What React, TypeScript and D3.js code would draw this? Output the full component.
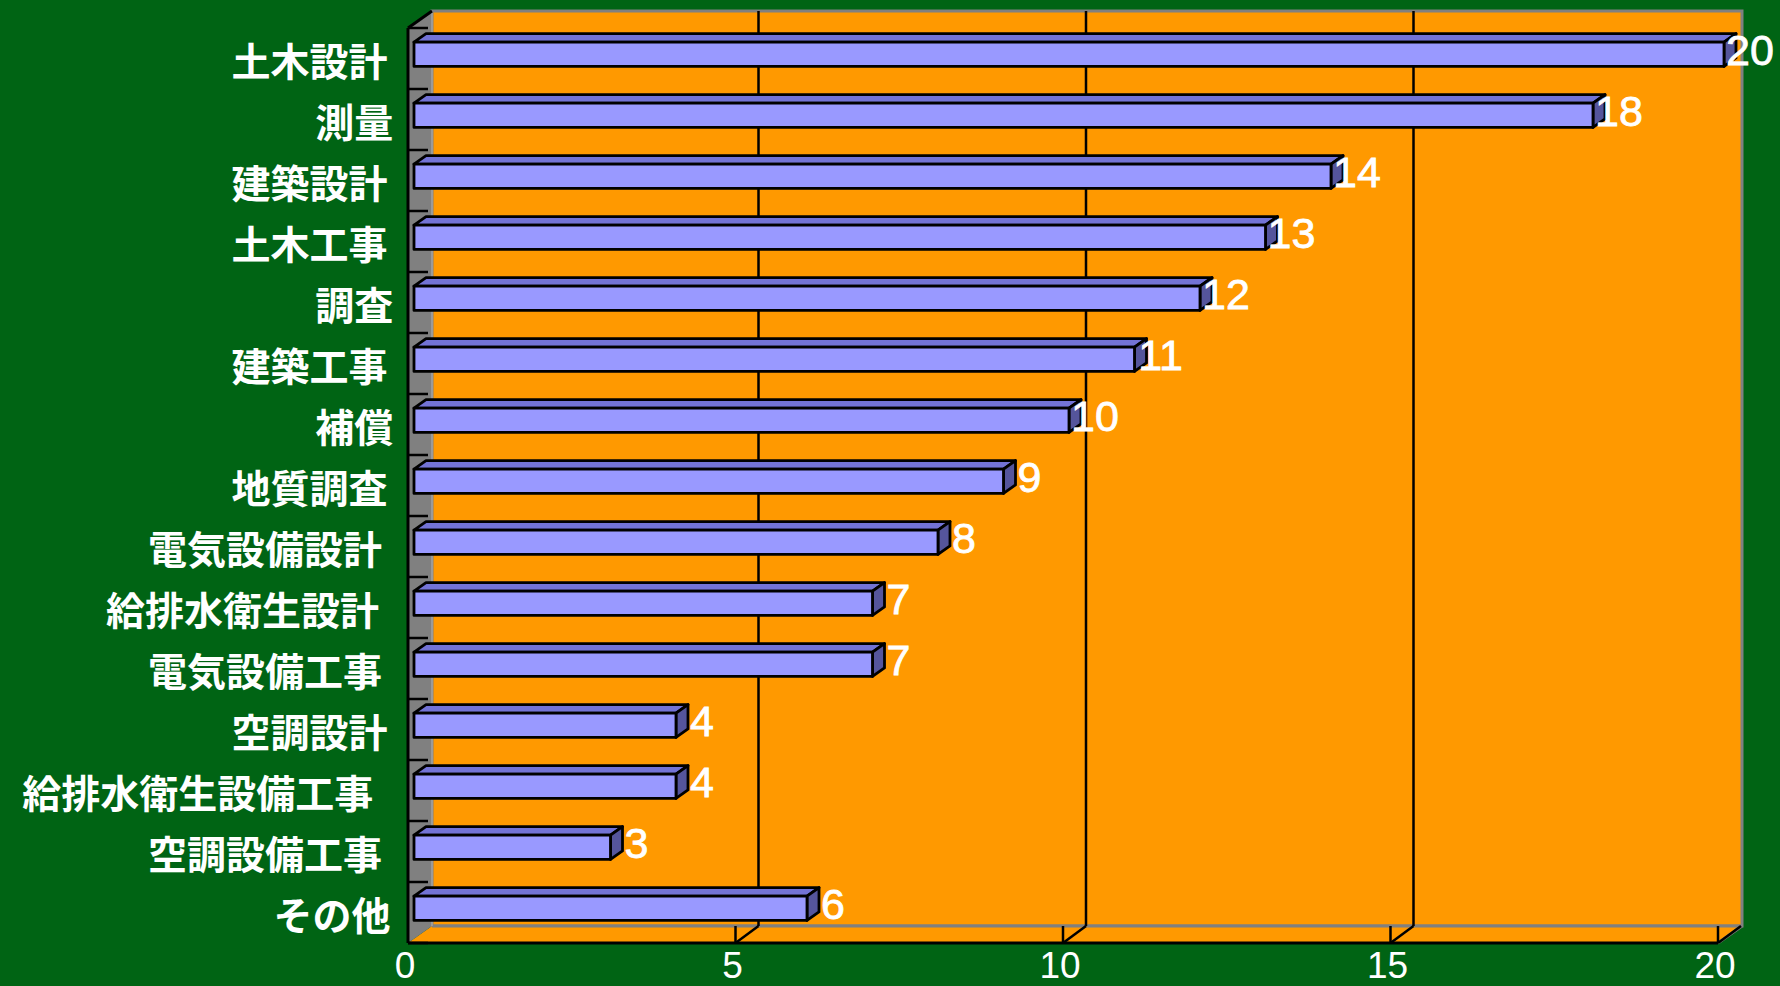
import * as d3 from "d3";
import { useEffect } from "react";

// 受注件数（業種別）
const categories = [
  "土木設計",
  "測量",
  "建築設計",
  "土木工事",
  "調査",
  "建築工事",
  "補償",
  "地質調査",
  "電気設備設計",
  "給排水衛生設計",
  "電気設備工事",
  "空調設計",
  "給排水衛生設備工事",
  "空調設備工事",
  "その他",
];
const counts = [20, 18, 14, 13, 12, 11, 10, 9, 8, 7, 7, 4, 4, 3, 6];
const xTicks = [0, 5, 10, 15, 20];

const width = 1780;
const height = 986;
// front plane of the 3d box
const frame = { left: 408, right: 1718, top: 28, bottom: 943 };
// depth offset (front -> back)
const depth = { dx: 24, dy: -17 };
// bars sit between these depth fractions
const barFront = 0.25;
const barBack = 0.75;

const green = "#006414";
const orange = "#FF9900";
const wallGray = "#808080";

export default function App() {
  useEffect(() => {
    document.body.style.margin = "0";
    document.body.style.background = green;
  }, []);

  const x = d3.scaleLinear().domain([0, 20]).range([frame.left, frame.right]);
  const y = d3.scaleBand().domain(categories).range([frame.top, frame.bottom]).padding(0);
  const barH = y.step() * 0.4;

  const bx = frame.left + depth.dx;
  const by = frame.top + depth.dy;
  const bBottom = frame.bottom + depth.dy;
  const bRight = frame.right + depth.dx;

  const pts = (p: number[][]) => p.map((d) => d.join(",")).join(" ");

  const f0x = depth.dx * barFront;
  const f0y = depth.dy * barFront;
  const bdx = depth.dx * (barBack - barFront);
  const bdy = depth.dy * (barBack - barFront);

  return (
    <svg width={width} height={height} style={{ display: "block", background: green }}>
      <rect x={0} y={0} width={width} height={height} fill={green} />

      {/* back wall */}
      <rect x={bx} y={by} width={bRight - bx} height={bBottom - by} fill={orange} stroke={wallGray} strokeWidth={3} />

      {/* floor */}
      <polygon
        points={pts([[frame.left, frame.bottom], [bx, bBottom], [bRight, bBottom], [frame.right, frame.bottom]])}
        fill={orange}
      />
      <line x1={bx} y1={bBottom} x2={bRight} y2={bBottom} stroke={wallGray} strokeWidth={3} />
      <line x1={frame.right} y1={frame.bottom} x2={bRight} y2={bBottom} stroke={wallGray} strokeWidth={3} />

      {/* side wall */}
      <polygon
        points={pts([[frame.left, frame.top], [bx, by], [bx, bBottom], [frame.left, frame.bottom]])}
        fill={wallGray}
      />
      <line x1={bx} y1={by} x2={bx} y2={bBottom} stroke="#9a9a9a" strokeWidth={2} />

      {/* gridlines on back wall and floor */}
      {xTicks.filter((t) => t > 0 && t < 20).map((t) => (
        <line key={"g" + t} x1={x(t) + depth.dx - 1} y1={by} x2={x(t) + depth.dx - 1} y2={bBottom} stroke="#000" strokeWidth={2.5} />
      ))}
      {xTicks.filter((t) => t > 0).map((t) => (
        <g key={"f" + t}>
          <line x1={x(t)} y1={frame.bottom} x2={x(t) + depth.dx - 1} y2={bBottom} stroke="#000" strokeWidth={2.5} />
          <line x1={x(t)} y1={frame.bottom} x2={x(t)} y2={bBottom} stroke="#000" strokeWidth={2.5} />
        </g>
      ))}

      {/* axes */}
      <line x1={frame.left} y1={frame.bottom} x2={frame.right} y2={frame.bottom} stroke="#000" strokeWidth={3} />
      <line x1={frame.left} y1={frame.top} x2={frame.left} y2={frame.bottom} stroke="#000" strokeWidth={3} />
      <line x1={frame.left} y1={frame.top} x2={bx} y2={by} stroke="#000" strokeWidth={3} />
      {d3.range(categories.length + 1).map((i) => {
        const yy = frame.top + i * y.step();
        return <line key={"ct" + i} x1={frame.left} y1={yy} x2={frame.left + 20} y2={yy} stroke="#000" strokeWidth={2.5} />;
      })}

      {/* bars */}
      {categories.map((c, i) => {
        const v = counts[i];
        const x0 = x(0) + f0x;
        const x1 = x(v) + f0x;
        const yc = (y(c) as number) + y.bandwidth() / 2 + f0y;
        const yt = yc - barH / 2;
        const yb = yc + barH / 2;
        return (
          <g key={c} stroke="#000" strokeWidth={2.8} strokeLinejoin="round">
            <polygon points={pts([[x0, yt], [x1, yt], [x1 + bdx, yt + bdy], [x0 + bdx, yt + bdy]])} fill="#7373D6" />
            <polygon points={pts([[x1, yt], [x1 + bdx, yt + bdy], [x1 + bdx, yb + bdy], [x1, yb]])} fill="#55559C" />
            <rect x={x0} y={yt} width={x1 - x0} height={barH} fill="#9999FF" />
          </g>
        );
      })}

      {/* value labels */}
      {categories.map((c, i) => {
        const v = counts[i];
        const yc = (y(c) as number) + y.bandwidth() / 2 + f0y;
        return (
          <text
            key={"v" + c}
            x={x(v) + f0x + 26}
            y={yc - 4}
            textAnchor="middle"
            dominantBaseline="central"
            fill="#fff"
            stroke="#fff"
            strokeWidth={0.8}
            fontFamily="'Liberation Sans', Arial, sans-serif"
            fontSize={43}
          >
            {v}
          </text>
        );
      })}

      {/* category labels */}
      {categories.map((c) => (
        <text
          key={"c" + c}
          x={399 - 0.073 * c.length * 39}
          y={(y(c) as number) + y.bandwidth() / 2}
          textAnchor="end"
          dominantBaseline="central"
          fill="#fff"
          fontFamily="'Noto Sans CJK JP', sans-serif"
          fontWeight="bold"
          fontSize={39}
        >
          {c}
        </text>
      ))}

      {/* x tick labels */}
      {xTicks.map((t) => (
        <text
          key={"t" + t}
          x={x(t) - 3}
          y={978}
          textAnchor="middle"
          fill="#fff"
          fontFamily="'Liberation Sans', Arial, sans-serif"
          fontSize={37}
        >
          {t}
        </text>
      ))}
    </svg>
  );
}
